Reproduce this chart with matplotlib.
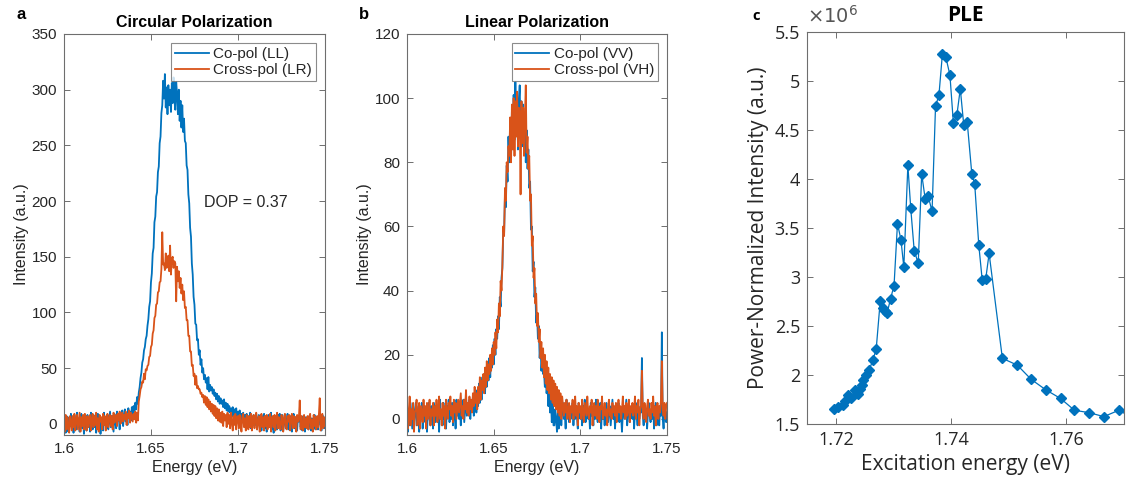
import matplotlib
matplotlib.use("Agg")
import matplotlib.pyplot as plt
import numpy as np
from matplotlib.ticker import FixedLocator, FuncFormatter

# ---- spectra (PL), energy grid 1.600 .. 1.750 eV, 0.5 meV step ----
energy = np.round(1.6 + 0.0005 * np.arange(301), 4)

circ_co = [
    -6, 4, -8, 7, 1, -7, 6, -2, 9, -4,
    3, -8, 8, 0, -5, 10, -3, 5, -7, 6,
    9, -4, 2, -9, 7, 3, -6, 8, -1, 5,
    -7, 10, 1, -5, 8, -3, 6, -8, 4, 9,
    -2, 7, -9, 5, 1, -6, 10, -1, 6, -4,
    8, -5, 3, 11, -3, 7, 0, -7, 9, 2,
    -4, 11, 3, 8, -5, 10, 1, 12, -2, 7,
    13, 2, 9, -1, 14, 6, 11, 3, 15, 8,
    16, 10, 19, 13, 24, 18, 28, 33, 41, 46,
    55, 58, 66, 69, 76, 79, 88, 94, 105, 110,
    127, 135, 153, 158, 181, 186, 204, 208, 226, 231,
    252, 258, 279, 286, 308, 292, 314, 284, 302, 278,
    304, 286, 300, 280, 306, 288, 311, 290, 282, 307,
    296, 278, 300, 272, 290, 266, 286, 262, 274, 254,
    252, 232, 228, 206, 198, 176, 168, 144, 134, 114,
    107, 90, 89, 75, 76, 62, 66, 53, 58, 46,
    50, 40, 44, 37, 41, 31, 42, 29, 35, 30,
    33, 27, 31, 25, 28, 22, 27, 20, 25, 18,
    23, 18, 21, 15, 22, 14, 19, 12, 18, 11,
    16, 10, 14, 7, 15, 6, 13, 5, 14, 3,
    11, 2, 12, 0, 9, 3, 10, -2, 8, 1,
    9, -3, 7, 2, 10, -4, 6, 1, 8, -2,
    5, 9, -5, 4, 8, -1, 6, -6, 7, 2,
    9, -4, 5, -7, 6, 8, -3, 4, 10, -5,
    3, -8, 7, 1, 6, -5, 8, -2, 9, -6,
    5, 8, -6, 3, 7, -4, 2, 9, -5, 6,
    -3, 7, -7, 4, 9, -4, 6, 0, -6, 7,
    2, 8, -3, 5, -6, 7, 1, -7, 6, -2,
    4, -5, 7, 0, -6, 5, 2, -4, 8, -5,
    3, 6, -5, 4, 9, -2, -6, 3, 7, -4,
    2,
]

circ_cross = [
    5, -7, 8, -5, 6, -2, -8, 7, 2, -6,
    7, -3, 9, -6, 4, 8, -5, 3, 10, -7,
    6, -2, 8, -5, 9, 2, -6, 7, -3, 4,
    8, -6, 4, 9, -3, 7, -1, 10, -5, 5,
    -7, 8, 2, 6, -5, 9, -1, 7, -6, 4,
    9, -3, 5, 8, -2, 7, -5, 10, 1, 6,
    8, -2, 9, 3, 11, 0, 7, 10, 2, 8,
    4, 11, -1, 9, 5, 12, 1, 10, 6, 2,
    9, 4, 11, 1, 10, 3, 20, 25, 31, 33,
    38, 37, 45, 40, 49, 48, 52, 53, 60, 61,
    69, 71, 81, 84, 95, 97, 107, 108, 118, 119,
    127, 128, 139, 172, 143, 144, 138, 153, 140, 141,
    151, 137, 160, 134, 148, 150, 140, 146, 144, 110,
    141, 128, 137, 122, 131, 117, 125, 111, 119, 104,
    105, 93, 93, 79, 79, 65, 65, 52, 53, 43,
    45, 35, 43, 32, 34, 31, 31, 27, 28, 24,
    26, 19, 25, 17, 24, 15, 22, 13, 20, 11,
    18, 9, 17, 7, 16, 5, 14, 3, 13, 2,
    10, 1, 11, -2, 9, 3, 8, -3, 10, 0,
    8, -4, 10, 1, -6, 7, -1, 9, -5, 6,
    7, -4, 8, 1, -7, 6, 9, -3, 5, -6,
    8, -2, -5, 7, -3, 9, -6, 5, 8, -4,
    6, 10, -5, 2, 7, -7, 5, 9, -3, 6,
    -6, 7, -2, 8, -5, 6, -3, 9, -7, 5,
    7, -3, 8, -6, 5, 10, -4, 6, -2, -5,
    8, 4, -7, 6, 9, -3, -5, 7, 2, 8,
    -6, 5, 9, -4, 7, -3, 6, -7, 8, 2,
    5, 21, -5, 7, -2, -6, 8, -3, 5, -4,
    7, -5, 6, 9, -4, 4, -7, 8, -2, 6,
    -5, 7, -3, 8, 23, -6, 4, 9, -4, 6,
    -2,
]

lin_co = [
    0, -4, 3, -2, 5, 1, -3, 4, -1, 2,
    5, -2, 1, 4, -4, 3, 0, 5, -3, 2,
    4, -1, 3, -4, 2, 5, 0, -2, 4, 1,
    -3, 5, 2, -1, 4, 0, 3, -4, 6, 1,
    2, -2, 5, 0, 3, -3, 4, 1, 6, -1,
    3, 0, 5, -2, 2, 4, -3, 6, 1, 3,
    0, 4, -2, 5, 2, 6, -1, 3, 7, 1,
    4, 2, 6, 0, 5, 3, 7, 1, 4, 6,
    2, 9, 4, 11, 5, 12, 6, 13, 9, 14,
    8, 16, 10, 17, 12, 19, 13, 20, 16, 23,
    17, 25, 20, 28, 25, 32, 28, 38, 35, 44,
    47, 59, 58, 70, 66, 79, 74, 88, 80, 93,
    82, 96, 85, 101, 87, 105, 90, 102, 84, 99,
    104, 88, 99, 85, 98, 83, 95, 80, 90, 78,
    84, 72, 74, 59, 60, 46, 49, 38, 41, 30,
    33, 25, 29, 19, 24, 15, 19, 14, 15, 10,
    13, 8, 11, 4, 9, 2, 7, -1, 5, -2,
    -2, 3, 0, -4, 2, -3, 1, 4, -2, 3,
    5, 0, 2, -3, 6, 1, 4, -1, 3, 0,
    2, 5, -2, 3, 0, 4, 1, -3, 5, 2,
    0, 3, -2, 4, 1, 6, -1, 2, 4, 0,
    3, -3, 5, 1, 2, -2, 4, 0, 6, 1,
    -1, 3, 2, 5, -3, 4, 0, 2, -2, 3,
    5, 1, -1, 3, 4, -2, 2, 6, 0, 3,
    -3, 2, 4, 0, 5, -1, 3, 1, -4, 2,
    4, 0, 3, 6, -2, 2, 5, -1, 3, 1,
    0, 4, -3, 2, 5, 1, -2, 4, 0, 3,
    2, 19, 1, -2, 4, 0, 3, -3, 2, 5,
    1, -1, 3, 0, 4, -3, 2, 5, -2, 1,
    3, -2, 4, 1, 27, 0, -3, 2, 4, -1,
    2,
]

lin_cross = [
    6, -3, 1, 7, -2, 3, 0, 5, -4, 2,
    3, 6, -2, 1, 5, -3, 4, 2, -1, 6,
    1, 4, -3, 5, 0, 2, 6, -2, 3, 1,
    5, -2, 4, 1, 6, -1, 2, 7, 0, 3,
    -2, 5, 1, 4, -3, 6, 2, 0, 5, 3,
    7, 1, 4, -1, 6, 2, 5, 0, 3, 6,
    2, 5, 8, 1, 4, 0, 6, 3, 9, 2,
    5, 1, 7, 3, 6, 2, 8, 4, 10, 5,
    8, 3, 10, 5, 13, 6, 12, 9, 14, 8,
    16, 10, 18, 12, 17, 14, 20, 15, 22, 17,
    24, 20, 27, 22, 31, 27, 36, 32, 43, 40,
    48, 60, 57, 72, 68, 80, 77, 85, 82, 94,
    80, 98, 84, 100, 82, 99, 88, 102, 85, 97,
    95, 70, 99, 86, 97, 82, 94, 104, 83, 88,
    78, 82, 68, 70, 54, 57, 44, 47, 36, 39,
    29, 33, 24, 28, 19, 24, 16, 22, 13, 20,
    11, 18, 9, 16, 8, 14, 6, 13, 5, 12,
    4, 11, 3, 10, 2, 9, 1, 8, 0, 7,
    4, 1, 5, 2, 6, 0, 3, 5, -1, 4,
    2, 6, 0, 3, 7, 1, 4, -2, 5, 2,
    4, 0, 6, 2, -1, 5, 3, 1, 7, 2,
    0, 4, 2, 6, -2, 3, 5, 1, 4, 0,
    6, 2, -1, 4, 3, 7, 0, 2, 5, 1,
    3, -2, 4, 6, 1, 3, 0, 5, 2, 4,
    1, 5, -1, 3, 6, 2, 4, 0, 3, 7,
    2, 4, 0, 5, 1, 3, 6, -1, 4, 2,
    5, 1, 3, 7, 0, 4, 2, 6, -2, 3,
    4, 15, 2, 0, 5, 3, -1, 4, 6, 1,
    3, 0, 5, 2, 7, 1, 4, -2, 3, 5,
    0, 4, 2, 6, 18, 3, 1, 5, 0, 4,
    5,
]

# ---- PLE ----
ple_energy = [
    1.7197, 1.7204, 1.7212, 1.7216, 1.7222, 1.7226, 1.7233, 1.7239,
    1.7242, 1.7245, 1.7248, 1.7252, 1.7258, 1.7264, 1.7270,
    1.7277, 1.7281, 1.7285, 1.7289, 1.7295, 1.7301, 1.7307, 1.7313,
    1.7318, 1.7325, 1.7330, 1.7336, 1.7343, 1.7349, 1.7355, 1.7360,
    1.7367, 1.7373, 1.7379, 1.7385, 1.7391, 1.7398, 1.7404, 1.7410,
    1.7416, 1.7422, 1.7428, 1.7436, 1.7441, 1.7448, 1.7454, 1.7460,
    1.7466, 1.7489, 1.7515, 1.7539, 1.7564, 1.7590, 1.7614, 1.7640,
    1.7665, 1.7691, 1.7716,
]
ple_intensity = [
    1.65, 1.67, 1.69, 1.73, 1.80, 1.76, 1.85, 1.81,
    1.86, 1.90, 1.95, 2.00, 2.05, 2.15, 2.26,
    2.75, 2.68, 2.65, 2.63, 2.78, 2.91, 3.545, 3.38,
    3.10, 4.14, 3.70, 3.27, 3.14, 4.05, 3.80, 3.83,
    3.67, 4.74, 4.86, 5.28, 5.24, 5.06, 4.57, 4.65,
    4.92, 4.55, 4.58, 4.05, 3.95, 3.33, 2.97, 2.975,
    3.24, 2.17, 2.10, 1.955, 1.85, 1.76, 1.64, 1.615,
    1.575, 1.64, 1.56,
]
ple_intensity = [v * 1e6 for v in ple_intensity]

blue = "#0072BD"
orange = "#D95319"
text_col = "#262626"
box_col = "#6e6e6e"

plt.rcParams["font.family"] = "Liberation Sans"

fig = plt.figure(figsize=(11.26, 4.91), dpi=100)


def style_axes(ax, size):
    for s in ax.spines.values():
        s.set_color(box_col)
        s.set_linewidth(0.8)
    ax.tick_params(direction="in", top=True, right=True, length=4, width=0.7,
                   color=box_col, labelcolor=text_col, labelsize=size, pad=5)


def spectrum_panel(rect, co, cross, labels, ylim, yticks, title, letter):
    ax = fig.add_axes(rect)
    ax.plot(energy, co, color=blue, lw=1.3, label=labels[0])
    ax.plot(energy, cross, color=orange, lw=1.3, label=labels[1])
    ax.set_xlim(1.6, 1.75)
    ax.set_ylim(*ylim)
    ax.xaxis.set_major_locator(FixedLocator([1.6, 1.65, 1.7, 1.75]))
    ax.xaxis.set_major_formatter(FuncFormatter(lambda v, p: f"{v:g}"))
    ax.yaxis.set_major_locator(FixedLocator(yticks))
    style_axes(ax, 11)
    ax.set_xlabel("Energy (eV)", fontsize=11.5, color=text_col, labelpad=3)
    ax.set_ylabel("Intensity (a.u.)", fontsize=11.5, color=text_col, labelpad=2)
    ax.set_title(title, fontsize=11.5, fontweight="bold", pad=5)
    leg = ax.legend(loc="upper right", fontsize=11, frameon=True, fancybox=False,
                    handlelength=2.2, handletextpad=0.3, borderpad=0.25,
                    labelspacing=0.15, borderaxespad=0.6)
    leg.get_frame().set_edgecolor(box_col)
    leg.get_frame().set_linewidth(0.8)
    for t in leg.get_texts():
        t.set_color(text_col)
    fig.text(rect[0] - 0.038, 0.97, letter, fontsize=12, fontweight="bold",
             va="center", ha="center")
    return ax


ax_a = spectrum_panel([0.0568, 0.1141, 0.2318, 0.8167], circ_co, circ_cross,
                      ["Co-pol (LL)", "Cross-pol (LR)"], (-10, 350),
                      range(0, 351, 50), "Circular Polarization", "a")
ax_a.text(1.6807, 199, "DOP = 0.37", fontsize=11.5, color=text_col, va="center")

ax_b = spectrum_panel([0.3615, 0.1141, 0.2309, 0.8167], lin_co, lin_cross,
                      ["Co-pol (VV)", "Cross-pol (VH)"], (-5, 120),
                      range(0, 121, 20), "Linear Polarization", "b")

# ---- PLE panel ----
ax_c = fig.add_axes([0.7167, 0.1365, 0.2815, 0.7984])
ax_c.plot(ple_energy, ple_intensity, color=blue, lw=0.9, marker="D",
          markersize=5, markerfacecolor=blue, markeredgecolor=blue)
ax_c.set_xlim(1.715, 1.77)
ax_c.set_ylim(1.5e6, 5.5e6)
ax_c.xaxis.set_major_locator(FixedLocator([1.72, 1.74, 1.76]))
ax_c.xaxis.set_major_formatter(FuncFormatter(lambda v, p: f"{v:.2f}"))
ax_c.yaxis.set_major_locator(FixedLocator(np.arange(1.5e6, 5.6e6, 0.5e6)))
ax_c.yaxis.set_major_formatter(FuncFormatter(lambda v, p: f"{v / 1e6:g}"))
style_axes(ax_c, 13)
for lab in ax_c.get_xticklabels() + ax_c.get_yticklabels():
    lab.set_family("Open Sans")
ax_c.set_xlabel("Excitation energy (eV)", fontsize=15, color=text_col,
                family="Open Sans", labelpad=4)
ax_c.set_ylabel("Power-Normalized Intensity (a.u.)", fontsize=15,
                color=text_col, family="Open Sans", labelpad=4)
ax_c.set_title("PLE", fontsize=15, fontweight="bold", family="Open Sans", pad=8)
ax_c.text(0.0, 1.012, r"$\times10^{6}$", transform=ax_c.transAxes, fontsize=14,
          color="#555555", ha="left", va="bottom")
fig.text(0.6715, 0.967, "c", fontsize=10.5, fontweight="bold", family="Open Sans",
         va="center", ha="center")

fig.savefig("out.png", dpi=100)
